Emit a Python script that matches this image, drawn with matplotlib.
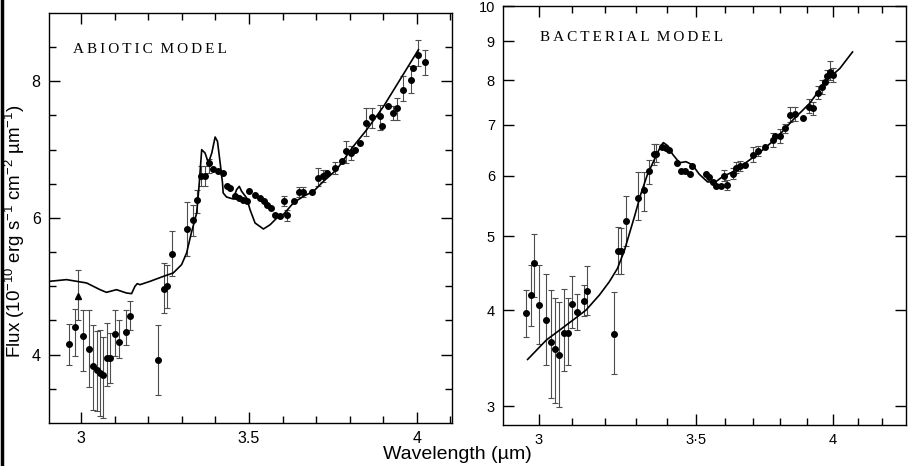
import numpy as np
import matplotlib.pyplot as plt
from matplotlib.ticker import FixedLocator, FixedFormatter, NullFormatter, NullLocator
from matplotlib.lines import Line2D

# ---- abiotic panel ----
abio_wl = [2.963, 2.981, 3.004, 3.024, 3.034, 3.046, 3.056, 3.066, 3.078, 3.087,
           3.100, 3.113, 3.133, 3.145, 3.228, 3.248, 3.257, 3.271, 3.314, 3.334,
           3.346, 3.358, 3.368, 3.380, 3.394, 3.409, 3.421, 3.433, 3.443, 3.458,
           3.471, 3.483, 3.493, 3.501, 3.518, 3.533, 3.545, 3.555, 3.565, 3.578,
           3.592, 3.604, 3.614, 3.634, 3.648, 3.662, 3.687, 3.707, 3.720, 3.732,
           3.756, 3.776, 3.789, 3.803, 3.816, 3.831, 3.849, 3.866, 3.889, 3.896,
           3.915, 3.928, 3.942, 3.958, 3.982, 3.990, 4.005, 4.025]
abio_flux = [4.156, 4.410, 4.278, 4.088, 3.829, 3.771, 3.732, 3.698, 3.951, 3.951,
             4.302, 4.180, 4.337, 4.571, 3.927, 4.961, 5.010, 5.473, 5.839, 5.966,
             6.268, 6.610, 6.610, 6.805, 6.717, 6.683, 6.659, 6.473, 6.434, 6.317,
             6.293, 6.268, 6.244, 6.390, 6.341, 6.293, 6.244, 6.195, 6.146, 6.049,
             6.034, 6.244, 6.049, 6.244, 6.376, 6.376, 6.376, 6.585, 6.610, 6.659,
             6.732, 6.829, 6.976, 6.951, 7.000, 7.098, 7.390, 7.478, 7.488, 7.341,
             7.644, 7.537, 7.610, 7.878, 8.024, 8.195, 8.390, 8.278]
abio_tri_wl = [2.989]
abio_tri_flux = [4.854]

abio_err_wl = [2.963, 2.981, 2.989, 3.004, 3.024, 3.034, 3.046, 3.056, 3.066, 3.078,
               3.087, 3.100, 3.113, 3.133, 3.145, 3.228, 3.248, 3.257, 3.271, 3.314,
               3.334, 3.346, 3.358, 3.368, 3.380, 3.604, 3.614, 3.648, 3.662, 3.707,
               3.720, 3.756, 3.789, 3.803, 3.849, 3.866, 3.889, 3.928, 3.942, 3.958,
               3.982, 4.005, 4.025]
abio_err_lo = [3.854, 3.976, 4.51, 3.756, 3.527, 3.195, 3.171, 3.098, 3.073, 3.537,
               3.585, 3.976, 3.951, 4.146, 4.366, 3.415, 4.610, 4.683, 5.156, 5.439,
               5.732, 6.073, 6.463, 6.463, 6.659, 6.171, 5.951, 6.30, 6.30, 6.463,
               6.52, 6.65, 6.805, 6.85, 7.195, 7.317, 7.293, 7.44, 7.439, 7.707,
               7.829, 8.220, 8.098]
abio_err_hi = [4.449, 4.668, 5.244, 4.659, 4.649, 4.439, 4.341, 4.366, 4.259, 4.463,
               4.317, 4.659, 4.512, 4.659, 4.780, 4.439, 5.341, 5.317, 5.805, 6.234,
               6.195, 6.415, 6.756, 6.756, 6.863, 6.317, 6.122, 6.45, 6.45, 6.732,
               6.70, 6.82, 7.122, 7.05, 7.610, 7.610, 7.659, 7.64, 7.756, 8.073,
               8.220, 8.610, 8.454]

abio_model_wl = [2.905, 2.956, 3.016, 3.056, 3.075, 3.105, 3.135, 3.150, 3.160, 3.167,
                 3.175, 3.205, 3.245, 3.274, 3.299, 3.314, 3.328, 3.344, 3.351, 3.359,
                 3.369, 3.379, 3.389, 3.399, 3.406, 3.414, 3.421, 3.423, 3.433, 3.453,
                 3.463, 3.471, 3.478, 3.493, 3.503, 3.518, 3.543, 3.563, 3.583, 3.602,
                 3.632, 3.662, 3.692, 3.722, 3.761, 3.811, 3.851, 3.901, 3.950, 4.005]
abio_model_flux = [5.073, 5.098, 5.049, 4.951, 4.912, 4.951, 4.902, 4.893, 5.000, 5.039,
                   5.024, 5.073, 5.146, 5.195, 5.317, 5.488, 5.780, 6.073, 6.463, 7.000,
                   6.951, 6.805, 6.951, 7.185, 7.122, 6.805, 6.512, 6.366, 6.307, 6.278,
                   6.415, 6.463, 6.390, 6.293, 6.122, 5.927, 5.839, 5.902, 6.000, 6.049,
                   6.220, 6.317, 6.390, 6.537, 6.707, 7.049, 7.293, 7.634, 8.024, 8.463]

# ---- bacterial panel ----
bact_wl = [2.962, 2.977, 2.985, 3.001, 3.021, 3.035, 3.048, 3.060, 3.075, 3.087,
           3.100, 3.114, 3.134, 3.145, 3.228, 3.243, 3.252, 3.268, 3.305, 3.324,
           3.341, 3.357, 3.366, 3.385, 3.397, 3.409, 3.434, 3.449, 3.463, 3.477,
           3.487, 3.532, 3.545, 3.559, 3.569, 3.586, 3.598, 3.606, 3.627, 3.639,
           3.655, 3.672, 3.699, 3.720, 3.745, 3.772, 3.781, 3.798, 3.819, 3.837,
           3.854, 3.884, 3.907, 3.923, 3.944, 3.960, 3.969, 3.978, 3.990, 4.002]
bact_flux = [3.97, 4.19, 4.62, 4.07, 3.89, 3.64, 3.56, 3.50, 3.74, 3.74,
             4.08, 3.98, 4.12, 4.24, 3.73, 4.78, 4.79, 5.24, 5.61, 5.74,
             6.09, 6.40, 6.41, 6.55, 6.52, 6.48, 6.23, 6.09, 6.09, 6.03,
             6.18, 6.04, 5.98, 5.88, 5.82, 5.81, 6.00, 5.83, 6.04, 6.14,
             6.18, 6.19, 6.39, 6.46, 6.55, 6.68, 6.76, 6.76, 6.92, 7.20,
             7.23, 7.13, 7.38, 7.35, 7.69, 7.83, 7.96, 8.10, 8.20, 8.12]

bact_err_wl = [2.962, 2.977, 2.985, 3.001, 3.021, 3.035, 3.048, 3.060, 3.075, 3.087,
               3.100, 3.114, 3.134, 3.145, 3.228, 3.243, 3.252, 3.268, 3.305, 3.324,
               3.341, 3.357, 3.366, 3.598, 3.606, 3.627, 3.639, 3.655, 3.699, 3.720,
               3.772, 3.798, 3.819, 3.837, 3.854, 3.907, 3.923, 3.944, 3.960, 3.978,
               3.990, 4.002]
bact_err_lo = [3.69, 3.82, 4.17, 3.62, 3.39, 3.07, 3.03, 2.99, 3.33, 3.39,
               3.79, 3.77, 3.93, 3.95, 3.30, 4.46, 4.47, 4.86, 5.25, 5.40,
               5.85, 6.20, 6.25, 5.90, 5.75, 5.95, 6.05, 6.08, 6.25, 6.36,
               6.55, 6.62, 6.82, 7.05, 7.08, 7.25, 7.20, 7.55, 7.68, 7.95,
               8.00, 7.95]
bact_err_hi = [4.25, 4.59, 5.03, 4.59, 4.46, 4.25, 4.15, 4.10, 4.27, 4.15,
               4.44, 4.20, 4.32, 4.58, 4.23, 5.14, 5.13, 5.64, 6.06, 6.07,
               6.30, 6.60, 6.60, 6.10, 5.93, 6.14, 6.25, 6.28, 6.55, 6.56,
               6.82, 6.90, 7.02, 7.38, 7.38, 7.55, 7.50, 7.85, 8.00, 8.25,
               8.48, 8.30]

bact_model_wl = [2.967, 3.022, 3.062, 3.102, 3.142, 3.183, 3.214, 3.240, 3.262, 3.278,
                 3.294, 3.315, 3.337, 3.365, 3.381, 3.389, 3.403, 3.420, 3.443, 3.465,
                 3.487, 3.510, 3.539, 3.567, 3.590, 3.627, 3.674, 3.723, 3.786, 3.848,
                 3.911, 3.977, 4.029, 4.079]
bact_model_flux = [3.452, 3.66, 3.772, 3.887, 4.006, 4.19, 4.36, 4.54, 4.79, 5.04,
                   5.30, 5.68, 6.03, 6.37, 6.57, 6.63, 6.57, 6.40, 6.24, 6.26,
                   6.20, 6.03, 5.89, 5.89, 5.98, 6.07, 6.24, 6.43, 6.72, 7.10,
                   7.46, 8.00, 8.29, 8.71]

plt.rcParams['font.family'] = ['Liberation Sans', 'DejaVu Sans']
plt.rcParams['mathtext.fontset'] = 'custom'
plt.rcParams['mathtext.rm'] = 'Liberation Sans'
plt.rcParams['mathtext.it'] = 'Liberation Sans'
plt.rcParams['mathtext.default'] = 'regular'

fig = plt.figure(figsize=(9.15, 4.66), dpi=100)
ax1 = fig.add_axes([0.0536, 0.0923, 0.4404, 0.8798])
ax2 = fig.add_axes([0.5500, 0.0880, 0.4398, 0.8990])


def draw_panel(ax, wl, flux, ewl, elo, ehi, mwl, mflux):
    ax.plot(mwl, mflux, color='black', lw=1.2, zorder=2)
    ewl = np.array(ewl)
    elo = np.array(elo)
    ehi = np.array(ehi)
    ax.errorbar(ewl, (elo + ehi) / 2, yerr=(ehi - elo) / 2, fmt='none',
                ecolor='0.3', elinewidth=0.8, capsize=2, capthick=0.8, zorder=1)
    ax.plot(wl, flux, 'o', color='black', ms=4, zorder=3)
    for s in ax.spines.values():
        s.set_linewidth(1.0)


def style_ticks(ax, size):
    ax.tick_params(which='both', direction='in', top=True, right=True,
                   bottom=True, left=True, width=1.0, color='black')
    ax.tick_params(which='major', length=8, labelsize=size, pad=6)
    ax.tick_params(which='minor', length=5)


def spaced(word):
    return '\u2009'.join(word)


draw_panel(ax1, abio_wl, abio_flux, abio_err_wl, abio_err_lo, abio_err_hi,
           abio_model_wl, abio_model_flux)
ax1.plot(abio_tri_wl, abio_tri_flux, '^', color='black', ms=5, zorder=3)
ax1.set_xlim(2.904, 4.105)
ax1.set_ylim(3.0, 9.0)
ax1.xaxis.set_major_locator(FixedLocator([3, 3.5, 4]))
ax1.xaxis.set_major_formatter(FixedFormatter(['3', '3.5', '4']))
ax1.xaxis.set_minor_locator(FixedLocator(np.arange(2.9, 4.11, 0.1)))
ax1.yaxis.set_major_locator(FixedLocator([4, 6, 8]))
ax1.yaxis.set_major_formatter(FixedFormatter(['4', '6', '8']))
ax1.yaxis.set_minor_locator(FixedLocator(np.arange(3.5, 9, 0.5)))
style_ticks(ax1, 11.5)
ax1.text(0.06, 0.912, spaced('ABIOTIC') + '  ' + spaced('MODEL'),
         transform=ax1.transAxes, family=['Liberation Serif', 'DejaVu Serif'],
         fontsize=11, va='center', ha='left')

draw_panel(ax2, bact_wl, bact_flux, bact_err_wl, bact_err_lo, bact_err_hi,
           bact_model_wl, bact_model_flux)
ax2.set_xscale('log')
ax2.set_yscale('log')
ax2.set_xlim(2.897, 4.297)
ax2.set_ylim(2.834, 10.0)
ax2.xaxis.set_major_locator(FixedLocator([3, 3.5, 4]))
ax2.xaxis.set_major_formatter(FixedFormatter(['3', '3\u00b75', '4']))
ax2.xaxis.set_minor_locator(FixedLocator(np.arange(3.1, 4.25, 0.1)))
ax2.xaxis.set_minor_formatter(NullFormatter())
ax2.yaxis.set_major_locator(FixedLocator([3, 4, 5, 6, 7, 8, 9, 10]))
ax2.yaxis.set_major_formatter(FixedFormatter(['3', '4', '5', '6', '7', '8', '9', '10']))
ax2.yaxis.set_minor_locator(NullLocator())
ax2.yaxis.set_minor_formatter(NullFormatter())
style_ticks(ax2, 10.5)
ax2.text(0.091, 0.924, spaced('BACTERIAL') + '  ' + spaced('MODEL'),
         transform=ax2.transAxes, family=['Liberation Serif', 'DejaVu Serif'],
         fontsize=11, va='center', ha='left')

fig.text(0.5, 0.024, 'Wavelength (\u00b5m)', ha='center', va='center', fontsize=14)
fig.text(0.016, 0.504,
         'Flux (10$^{-10}$ erg s$^{-1}$ cm$^{-2}$ \u00b5m$^{-1}$)',
         rotation=90, ha='center', va='center', fontsize=13.5)
fig.add_artist(Line2D([0.002, 0.002], [0, 1], color='black', lw=2.5))

fig.savefig('out.png', dpi=100)
